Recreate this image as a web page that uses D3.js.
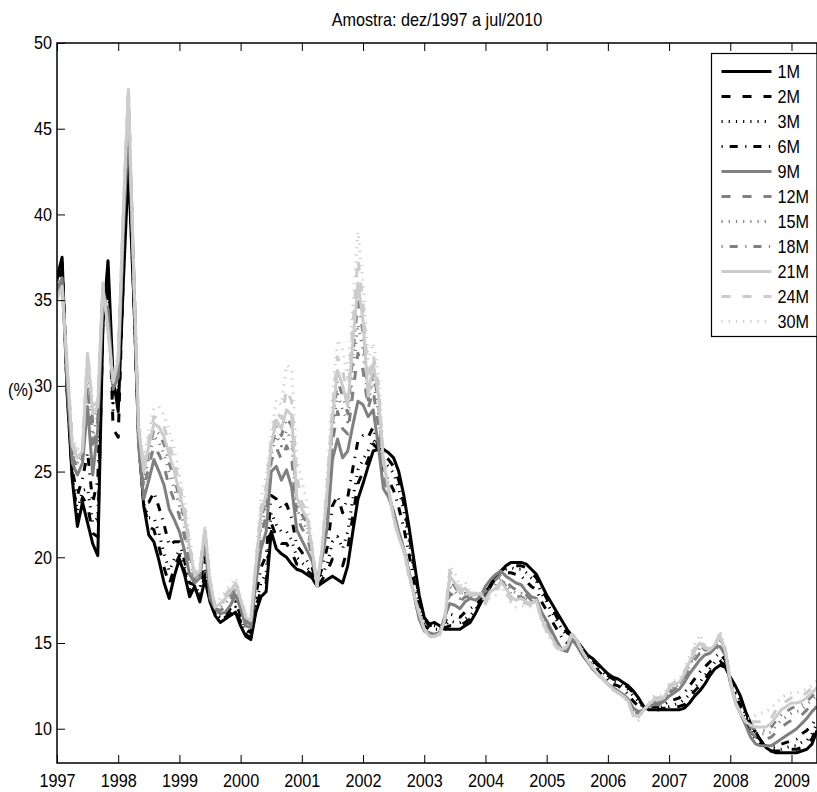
<!DOCTYPE html>
<html>
<head>
<meta charset="utf-8">
<script src="https://cdn.jsdelivr.net/npm/d3@7"></script>
<style>
  html, body { margin: 0; padding: 0; background: #fff; }
  svg { display: block; }
  text { font-family: "Liberation Sans", Arial, Helvetica, sans-serif; font-size: 18px; fill: #000; }
</style>
</head>
<body>
<svg id="chart" width="817" height="792"></svg>
<script>
// Monthly DI swap rates (%) by maturity, Dec/1997 onwards
const maturities = ["1M", "2M", "3M", "6M", "9M", "12M", "15M", "18M", "21M", "24M", "30M"];

const yearLabels = ["1997","1998","1999","2000","2001","2002","2003","2004","2005","2006","2007","2008","2009"];
const yTicks = [10, 15, 20, 25, 30, 35, 40, 45, 50];

const r1M = [
36.3,37.5,29.5,24.5,21.8,23.2,22.0,20.8,20.1,33.5,
37.3,30.5,28.5,36.0,42.8,35.5,27.0,23.0,21.3,20.9,
19.8,18.5,17.6,18.9,19.9,19.0,17.7,18.3,17.4,18.7,
17.4,16.6,16.2,16.4,16.6,16.8,16.0,15.4,15.2,16.8,
17.7,18.0,21.5,20.5,20.2,20.0,19.6,19.3,19.2,19.0,
18.8,18.3,18.5,18.7,18.9,18.7,18.5,19.5,21.5,23.4,
24.3,25.3,26.2,26.3,26.3,26.1,25.8,25.0,23.6,21.8,
19.8,17.8,16.5,16.1,16.2,16.0,15.8,15.8,15.8,15.8,
16.0,16.2,16.7,17.3,17.8,18.3,18.8,19.2,19.5,19.7,
19.7,19.7,19.6,19.3,19.0,18.4,17.8,17.3,16.8,16.3,
15.8,15.4,15.1,14.7,14.3,14.1,13.8,13.5,13.2,13.0,
12.9,12.7,12.5,12.2,11.8,11.3,11.1,11.1,11.1,11.1,
11.1,11.1,11.1,11.2,11.5,11.9,12.2,12.6,13.1,13.5,
13.7,13.6,13.0,12.5,11.9,11.0,10.3,9.8,9.3,8.9,
8.7,8.6,8.6,8.6,8.6,8.6,8.7,8.8,9.1,9.9];

const r2M = [
36.2,37.3,29.6,24.7,22.3,23.5,23.0,21.4,21.2,33.7,
36.9,27.5,27.0,36.5,43.1,35.7,26.9,23.1,21.8,21.6,
20.6,19.4,18.4,19.4,20.1,19.2,17.9,18.3,17.6,19.0,
17.4,16.7,16.3,16.5,16.7,17.0,16.2,15.5,15.3,17.1,
18.1,18.5,22.0,21.2,20.8,20.8,20.3,19.6,19.5,19.2,
19.0,18.3,18.7,19.2,19.9,19.9,19.5,20.5,22.4,24.3,
25.0,25.7,26.6,26.3,26.0,25.7,25.3,24.5,23.1,21.4,
19.5,17.6,16.4,16.0,16.1,15.9,15.9,16.0,16.0,16.0,
16.2,16.4,16.8,17.4,17.9,18.4,18.8,19.2,19.4,19.6,
19.5,19.5,19.4,19.1,18.8,18.2,17.6,17.1,16.5,16.0,
15.6,15.4,15.1,14.6,14.2,14.0,13.7,13.4,13.1,12.9,
12.8,12.6,12.4,12.1,11.7,11.3,11.1,11.1,11.1,11.2,
11.2,11.3,11.3,11.4,11.8,12.2,12.5,12.9,13.3,13.7,
13.9,13.7,13.0,12.4,11.8,10.9,10.2,9.7,9.3,8.9,
8.7,8.7,8.7,8.8,8.8,8.8,8.9,9.1,9.4,10.1];

const r3M = [
36.1,37.1,29.7,24.8,22.7,23.9,24.0,22.0,22.3,34.0,
36.5,28.5,28.8,36.9,43.5,36.0,26.9,23.1,22.3,22.3,
21.4,20.2,19.2,19.9,20.4,19.4,18.1,18.4,17.8,19.4,
17.5,16.7,16.4,16.5,16.8,17.1,16.3,15.6,15.4,17.3,
18.5,19.1,22.6,21.9,21.5,21.5,21.0,20.0,19.7,19.4,
19.1,18.4,19.0,19.6,20.9,21.2,20.5,21.5,23.4,25.1,
25.7,26.2,26.9,26.4,25.6,25.3,24.9,24.0,22.7,21.0,
19.2,17.4,16.3,16.0,16.0,15.9,16.0,16.3,16.2,16.2,
16.4,16.6,16.9,17.4,18.0,18.4,18.9,19.2,19.3,19.4,
19.3,19.3,19.1,18.8,18.6,17.9,17.4,16.8,16.3,15.8,
15.4,15.3,15.0,14.6,14.2,13.9,13.6,13.3,13.0,12.8,
12.7,12.5,12.3,11.9,11.6,11.2,11.2,11.2,11.2,11.3,
11.3,11.4,11.5,11.7,12.0,12.4,12.7,13.1,13.5,13.9,
14.0,13.8,12.9,12.2,11.6,10.8,10.1,9.6,9.2,8.9,
8.8,8.8,8.8,8.9,9.0,9.0,9.2,9.3,9.7,10.3];

const r6M = [
35.9,36.8,29.8,25.1,23.6,24.6,26.1,23.2,24.5,34.4,
35.6,29.0,29.7,37.8,44.1,36.4,26.7,23.2,23.2,23.8,
22.9,21.9,20.7,20.9,20.9,19.8,18.5,18.4,18.2,20.1,
17.5,16.8,16.5,16.6,17.0,17.4,16.6,15.8,15.6,17.8,
19.4,20.1,23.6,23.4,22.8,23.1,22.3,20.7,20.3,19.8,
19.4,18.5,19.4,20.6,23.0,23.6,22.6,23.5,25.2,26.8,
27.1,27.0,27.6,26.4,24.9,24.5,23.9,22.9,21.7,20.2,
18.6,17.0,16.0,15.8,15.8,15.8,16.2,16.7,16.6,16.5,
16.8,17.0,17.2,17.5,18.1,18.5,18.9,19.2,19.1,19.1,
19.0,18.9,18.6,18.3,18.1,17.4,16.9,16.3,15.8,15.3,
15.0,15.3,14.9,14.5,14.0,13.7,13.4,13.1,12.8,12.6,
12.5,12.3,12.0,11.6,11.3,11.2,11.2,11.3,11.3,11.4,
11.6,11.7,11.8,12.1,12.5,12.9,13.3,13.6,13.9,14.2,
14.4,14.0,12.8,12.0,11.3,10.5,9.8,9.4,9.1,9.0,
8.9,9.0,9.1,9.2,9.3,9.4,9.7,9.9,10.2,10.7];

const r9M = [
35.6,36.3,30.0,25.5,24.8,25.5,28.8,24.8,27.5,35.0,
34.5,29.8,30.5,39.0,45.0,37.0,26.5,23.4,24.5,25.7,
25.0,24.2,22.8,22.2,21.5,20.4,19.0,18.5,18.8,21.0,
17.6,17.0,16.7,16.8,17.2,17.8,17.0,16.0,15.9,18.5,
20.5,21.5,25.0,25.3,24.5,25.1,24.1,21.6,21.0,20.4,
19.8,18.6,20.0,21.8,25.7,26.9,25.8,26.2,27.7,29.1,
28.9,28.2,28.6,26.5,24.0,23.5,22.7,21.5,20.5,19.2,
17.8,16.4,15.7,15.6,15.5,15.6,16.5,17.3,17.2,17.0,
17.4,17.6,17.5,17.7,18.3,18.7,19.0,19.2,18.9,18.7,
18.5,18.4,18.0,17.7,17.6,16.8,16.3,15.7,15.1,14.6,
14.5,15.2,14.8,14.3,13.9,13.5,13.2,12.9,12.6,12.4,
12.2,12.0,11.7,11.2,11.0,11.1,11.3,11.4,11.4,11.6,
11.9,12.1,12.3,12.7,13.2,13.6,14.0,14.3,14.4,14.7,
14.8,14.3,12.7,11.6,10.9,10.2,9.5,9.1,9.0,9.0,
9.0,9.2,9.4,9.6,9.8,10.0,10.3,10.6,11.0,11.3];

const r12M = [
35.4,36.1,30.4,25.9,25.2,25.8,30.0,26.2,28.0,35.3,
34.0,29.9,30.9,39.4,45.9,37.0,26.9,24.0,25.3,26.5,
26.0,25.3,24.1,23.3,22.4,21.2,19.6,18.7,19.0,21.2,
18.0,17.0,16.9,17.1,17.5,18.1,17.2,16.2,16.1,18.9,
21.3,22.4,25.6,26.4,25.7,26.5,25.8,22.4,21.7,21.2,
20.1,18.5,20.2,22.7,26.7,28.5,27.5,27.2,29.6,31.9,
30.9,28.7,29.7,27.7,24.6,23.7,22.5,21.4,20.5,19.1,
17.8,16.5,15.7,15.5,15.5,15.6,16.4,17.9,17.7,17.4,
17.7,17.7,17.6,17.8,18.0,18.4,18.7,19.0,18.6,18.3,
18.1,18.1,17.8,17.5,17.6,16.6,16.1,15.5,15.0,14.6,
14.6,15.3,14.9,14.4,13.9,13.5,13.2,12.9,12.6,12.4,
12.2,12.0,11.7,11.0,10.9,11.1,11.3,11.5,11.5,11.7,
12.1,12.3,12.5,12.9,13.5,14.0,14.4,14.5,14.5,14.8,
15.0,14.4,12.7,11.6,10.9,10.3,9.8,9.5,9.4,9.4,
9.5,9.8,10.1,10.3,10.5,10.6,10.8,11.1,11.4,11.7];

const r15M = [
35.3,36.0,30.7,26.2,25.5,26.0,30.8,27.1,28.3,35.5,
33.7,30.0,31.2,39.7,46.5,37.0,27.2,24.4,25.8,27.1,
26.7,26.0,24.9,24.0,23.0,21.8,20.0,18.8,19.1,21.4,
18.2,17.1,17.1,17.3,17.7,18.3,17.3,16.3,16.2,19.2,
21.8,22.9,26.0,27.1,26.5,27.4,26.8,22.8,22.2,21.6,
20.3,18.4,20.3,23.2,27.3,29.5,28.6,27.9,30.8,33.6,
32.1,29.0,30.4,28.5,25.0,23.8,22.4,21.3,20.4,19.1,
17.8,16.6,15.8,15.5,15.5,15.6,16.4,18.3,18.0,17.6,
17.9,17.7,17.7,17.8,17.8,18.2,18.5,18.8,18.4,18.1,
17.9,17.9,17.6,17.4,17.6,16.5,16.0,15.4,14.9,14.6,
14.7,15.4,15.0,14.4,14.0,13.6,13.2,12.9,12.6,12.3,
12.1,11.9,11.6,10.9,10.8,11.1,11.4,11.6,11.6,11.7,
12.2,12.4,12.6,13.0,13.7,14.2,14.7,14.6,14.5,14.8,
15.2,14.5,12.8,11.5,10.9,10.3,10.0,9.8,9.7,9.7,
9.8,10.2,10.5,10.7,10.9,11.0,11.1,11.4,11.7,12.0];

const r18M = [
35.3,35.9,30.9,26.4,25.7,26.1,31.4,27.9,28.6,35.7,
33.5,30.1,31.4,39.9,47.0,37.0,27.4,24.8,26.2,27.5,
27.2,26.6,25.5,24.6,23.5,22.2,20.3,18.8,19.1,21.5,
18.4,17.1,17.2,17.5,17.9,18.4,17.4,16.4,16.2,19.4,
22.2,23.4,26.3,27.6,27.1,28.1,27.7,23.2,22.5,22.0,
20.4,18.4,20.4,23.7,27.8,30.3,29.4,28.4,31.8,35.0,
33.1,29.2,30.9,29.1,25.3,23.9,22.4,21.2,20.4,19.0,
17.8,16.7,15.8,15.4,15.4,15.5,16.3,18.7,18.3,17.8,
18.1,17.8,17.8,17.9,17.6,18.1,18.3,18.7,18.3,17.9,
17.7,17.7,17.5,17.4,17.5,16.5,15.9,15.4,14.8,14.6,
14.7,15.5,15.1,14.5,14.0,13.6,13.2,12.9,12.6,12.3,
12.1,11.9,11.6,10.9,10.7,11.1,11.4,11.7,11.7,11.8,
12.3,12.5,12.6,13.1,13.8,14.4,14.9,14.6,14.6,14.9,
15.3,14.6,12.8,11.5,10.9,10.4,10.1,10.0,9.9,9.9,
10.1,10.5,10.8,11.0,11.2,11.3,11.4,11.6,11.9,12.2];

const r21M = [
35.2,35.8,31.0,26.5,25.8,26.2,31.9,28.4,28.8,35.8,
33.3,30.2,31.5,40.0,47.3,37.0,27.5,25.0,26.5,27.8,
27.6,27.0,26.0,25.0,23.8,22.5,20.5,18.9,19.2,21.6,
18.5,17.1,17.3,17.6,18.0,18.5,17.5,16.5,16.3,19.5,
22.5,23.7,26.5,28.0,27.5,28.6,28.3,23.5,22.8,22.3,
20.5,18.3,20.5,24.0,28.2,30.9,30.0,28.8,32.5,36.0,
33.8,29.4,31.3,29.5,25.5,24.0,22.3,21.2,20.4,19.0,
17.8,16.7,15.8,15.4,15.4,15.5,16.3,18.9,18.5,17.9,
18.2,17.8,17.8,17.9,17.5,18.0,18.2,18.6,18.2,17.7,
17.5,17.6,17.4,17.3,17.5,16.4,15.8,15.3,14.8,14.6,
14.8,15.5,15.1,14.5,14.0,13.6,13.2,12.9,12.6,12.3,
12.1,11.9,11.6,10.8,10.7,11.1,11.4,11.7,11.7,11.8,
12.4,12.6,12.7,13.2,13.9,14.5,15.0,14.7,14.6,14.9,
15.4,14.6,12.8,11.5,10.9,10.4,10.2,10.1,10.1,10.1,
10.3,10.7,11.1,11.3,11.5,11.5,11.6,11.8,12.1,12.4];

const r24M = [
35.1,35.7,31.2,26.7,26.0,26.3,32.0,28.8,29.1,36.0,
33.1,30.3,31.7,40.2,47.4,37.0,27.7,25.3,26.9,28.2,
28.1,27.6,26.6,25.6,24.3,22.9,20.8,19.0,19.3,21.7,
18.7,17.1,17.4,17.8,18.2,18.6,17.6,16.6,16.4,19.7,
22.9,24.1,26.8,28.5,28.1,29.8,29.1,24.8,23.2,22.7,
20.6,18.3,20.6,24.4,28.7,31.7,30.9,29.3,33.5,37.4,
34.8,30.3,31.8,30.1,25.8,24.1,22.2,21.1,20.4,19.0,
17.8,16.8,15.8,15.4,15.4,15.5,16.4,19.2,18.8,18.1,
18.4,17.9,17.9,17.9,17.3,17.9,18.0,18.5,18.0,17.5,
17.3,17.4,17.3,17.2,17.5,16.3,15.7,15.2,14.7,14.6,
14.9,15.6,15.1,14.5,14.0,13.6,13.2,12.9,12.6,12.3,
12.1,11.9,11.6,10.7,10.6,11.1,11.4,11.8,11.8,11.9,
12.5,12.7,12.8,13.3,14.0,14.7,15.2,14.8,14.6,15.0,
15.5,14.7,12.8,11.5,10.9,10.5,10.4,10.4,10.4,10.4,
10.6,11.1,11.4,11.6,11.8,11.8,11.9,12.1,12.4,12.6];

const r30M = [
35.0,35.6,31.5,27.0,26.3,26.5,31.8,29.0,29.2,36.0,
32.9,30.4,31.9,40.4,47.2,37.0,28.0,25.7,27.4,28.7,
28.8,28.3,27.4,26.3,24.8,23.4,21.2,19.1,19.4,21.9,
18.9,17.2,17.6,18.0,18.4,18.8,17.7,16.7,16.5,20.0,
23.4,24.7,27.2,29.2,28.9,31.2,31.0,25.8,24.5,23.2,
20.8,18.3,20.7,25.0,29.3,32.7,32.1,30.5,34.7,39.0,
36.0,31.5,32.5,30.8,26.2,24.2,22.1,21.1,20.4,19.0,
17.8,16.8,15.8,15.4,15.4,15.5,16.5,19.5,19.1,18.3,
18.6,18.0,17.9,18.0,17.2,17.7,17.8,18.3,17.9,17.3,
17.1,17.2,17.1,17.1,17.5,16.2,15.6,15.1,14.7,14.6,
14.9,15.6,15.2,14.6,14.0,13.6,13.2,12.9,12.6,12.3,
12.1,11.9,11.6,10.6,10.5,11.1,11.5,11.9,11.9,12.0,
12.6,12.8,12.9,13.4,14.2,14.9,15.5,14.9,14.7,15.0,
15.7,14.7,12.8,11.5,10.9,10.6,10.6,10.8,10.9,11.0,
11.2,11.5,11.8,12.0,12.1,12.1,12.2,12.3,12.5,12.8];

const seriesValues = [r1M, r2M, r3M, r6M, r9M, r12M, r15M, r18M, r21M, r24M, r30M];

// Line styles: three shades, four MATLAB-like patterns
const BLACK = "#000000", GREY = "#808080", LIGHT = "#cccccc";
const SOLID = null, DASH = "9,12", DOT = "1.2,6", DASHDOT = "1.2,7,8,7.5";
const styles = [
  [BLACK, SOLID], [BLACK, DASH], [BLACK, DOT], [BLACK, DASHDOT],
  [GREY, SOLID], [GREY, DASH], [GREY, DOT], [GREY, DASHDOT],
  [LIGHT, SOLID], [LIGHT, DASH], [LIGHT, DOT]
];

(function draw() {
  const svg = d3.select("#chart");
  const W = 817, H = 792;
  const pL = 57, pR = 817, pT = 43, pB = 763;
  const nPts = r1M.length;
  const TX = 0.9; // horizontal glyph compression

  svg.append("rect").attr("width", W).attr("height", H).attr("fill", "#fff");

  const x = d3.scaleLinear().domain([0, nPts - 1]).range([pL, pR]);
  const y = d3.scaleLinear().domain([8, 50]).range([pB, pT]);
  const tickIdx = yearLabels.map((_, k) => k * 12);

  svg.append("defs").append("clipPath").attr("id", "plotclip")
    .append("rect").attr("x", pL).attr("y", pT).attr("width", pR - pL).attr("height", pB - pT);

  // Series
  const line = d3.line().x((d, i) => x(i)).y(d => y(d));
  const gLines = svg.append("g").attr("clip-path", "url(#plotclip)");
  seriesValues.forEach((vals, k) => {
    gLines.append("path")
      .datum(vals)
      .attr("d", line)
      .attr("fill", "none")
      .attr("stroke", styles[k][0])
      .attr("stroke-width", 3)
      .attr("stroke-linejoin", "round")
      .attr("stroke-dasharray", styles[k][1]);
  });

  // Axes (ticks pointing inward)
  const xAxis = svg.append("g").attr("transform", `translate(0,${pB})`)
    .call(d3.axisBottom(x).tickValues(tickIdx).tickSize(-8).tickFormat((d, i) => yearLabels[i]));
  xAxis.selectAll("text").attr("y", 24.5).attr("dy", null)
    .attr("transform", `scale(${TX},1)`);

  const xTop = svg.append("g").attr("transform", `translate(0,${pT})`)
    .call(d3.axisTop(x).tickValues(tickIdx).tickSize(-8).tickFormat(""));

  const yAxis = svg.append("g").attr("transform", `translate(${pL},0)`)
    .call(d3.axisLeft(y).tickValues(yTicks).tickSize(-8).tickPadding(5).tickFormat(d3.format("d")));
  yAxis.selectAll("text").attr("x", -5 / TX).attr("transform", `scale(${TX},1)`);

  [xAxis, xTop, yAxis].forEach(g => {
    g.select(".domain").remove();
    g.selectAll("line").attr("stroke", "#000").attr("stroke-width", 1);
    g.selectAll("text").attr("font-size", 18).attr("font-family", '"Liberation Sans", Arial, sans-serif').attr("fill", "#000");
  });

  // Axes box
  svg.append("rect")
    .attr("x", pL).attr("y", pT)
    .attr("width", pR - pL).attr("height", pB - pT)
    .attr("fill", "none").attr("stroke", "#000").attr("stroke-width", 1.5);

  function label(xp, yp, s, anchor) {
    svg.append("text")
      .attr("transform", `translate(${xp},${yp}) scale(${TX},1)`)
      .attr("text-anchor", anchor)
      .text(s);
  }

  label((pL + pR) / 2, 26, "Amostra: dez/1997 a jul/2010", "middle");
  label(8, 396, "(%)", "start");

  // Legend
  const lg = svg.append("g");
  const lgX = 711.5, lgY = 53.5, lgW = 105.5, lgH = 283, rowH = 25;
  lg.append("rect").attr("x", lgX).attr("y", lgY).attr("width", lgW).attr("height", lgH)
    .attr("fill", "#fff").attr("stroke", "#000").attr("stroke-width", 1.2);
  maturities.forEach((m, k) => {
    const yy = lgY + 18 + k * rowH;
    lg.append("line")
      .attr("x1", lgX + 10).attr("x2", lgX + 60)
      .attr("y1", yy).attr("y2", yy)
      .attr("stroke", styles[k][0]).attr("stroke-width", 3)
      .attr("stroke-dasharray", styles[k][1]);
    lg.append("text")
      .attr("transform", `translate(${lgX + 66},${yy + 6.5}) scale(${TX},1)`)
      .text(m);
  });
})();
</script>
</body>
</html>
